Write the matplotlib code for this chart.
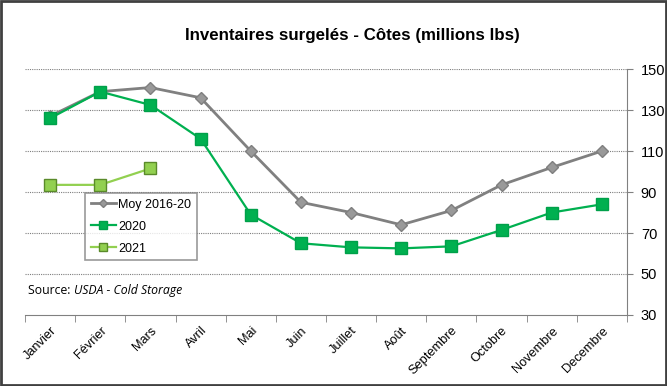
import matplotlib
matplotlib.use("Agg")
import matplotlib.pyplot as plt
from matplotlib.patches import Rectangle
from matplotlib.transforms import offset_copy

months = ["Janvier", "Février", "Mars", "Avril", "Mai", "Juin", "Juillet", "Août",
          "Septembre", "Octobre", "Novembre", "Decembre"]
moy = [127, 139, 141, 136, 110, 85, 80, 74, 81, 93.5, 102, 110]
y2020 = [126, 139, 132.5, 116, 79, 65, 63, 62.5, 63.5, 71.5, 80, 84]
y2021 = [93.5, 93.5, 101.5]
yticks = [30, 50, 70, 90, 110, 130, 150]

plt.rcParams['font.family'] = ['Liberation Sans', 'DejaVu Sans']
fig = plt.figure(figsize=(6.67, 3.86), dpi=100)
ax = fig.add_axes([0.0375, 0.184, 0.9025, 0.637])

x = list(range(len(months)))
ax.plot(x, moy, color='#808080', lw=2, marker='D', ms=6.5, mfc='#999999', mec='#7f7f7f',
        label='Moy 2016-20', zorder=3)
ax.plot(x, y2020, color='#00B050', lw=1.6, marker='s', ms=8, mfc='#00B050', mec='#00A04a',
        label='2020', zorder=4)
ax.plot(x[:len(y2021)], y2021, color='#92D050', lw=1.6, marker='s', ms=8, mfc='#92D050',
        mec='#5a8a2a', label='2021', zorder=5)

ax.set_xlim(-0.5, len(months) - 0.5)
ax.set_ylim(30, 150)
ax.set_yticks(yticks)
for v in yticks[1:]:
    ax.axhline(v, color='#7f7f7f', lw=0.8, ls=(0, (1, 1)), zorder=1)

ax.yaxis.tick_right()
ax.tick_params(axis='y', length=4, color='#808080', labelsize=10.5, pad=6)
ax.set_xticks([i + 0.5 for i in range(-1, len(months))], minor=True)
ax.set_xticks(x)
ax.set_xticklabels(months, rotation=45, ha='right', rotation_mode='anchor', fontsize=9.2)
ax.tick_params(axis='x', which='major', length=0, pad=7)
ax.tick_params(axis='x', which='minor', length=5, color='#808080', direction='out')
for s in ['top', 'left']:
    ax.spines[s].set_visible(False)
for s in ['right', 'bottom']:
    ax.spines[s].set_color('#808080')

fig.text(0.528, 0.908, "Inventaires surgelés - Côtes (millions lbs)", fontsize=12.2,
         fontweight='bold', ha='center', va='center')

t1 = ax.text(0.005, 0.085, "Source: ", transform=ax.transAxes, fontsize=8.8,
             family=['Open Sans', 'DejaVu Sans'])
fig.canvas.draw()
w = t1.get_window_extent().width
ax.text(0.005, 0.085, "USDA - Cold Storage", fontsize=8.8, style='italic',
        family=['Open Sans', 'DejaVu Sans'],
        transform=offset_copy(ax.transAxes, fig=fig, x=w * 72 / fig.dpi, y=0, units='points'))

leg = ax.legend(loc='upper left', bbox_to_anchor=(0.0997, 0.496), fontsize=9, frameon=True,
                fancybox=False, edgecolor='#808080', handlelength=2.0, borderpad=0.45,
                labelspacing=0.8, handletextpad=0.2, markerscale=0.7, borderaxespad=0)
leg.get_frame().set_linewidth(1.2)

fig.patches.append(Rectangle((0.002, 0.003), 0.996, 0.994, transform=fig.transFigure,
                             fill=False, edgecolor='#404040', lw=2))
fig.savefig("out.png", dpi=100)
